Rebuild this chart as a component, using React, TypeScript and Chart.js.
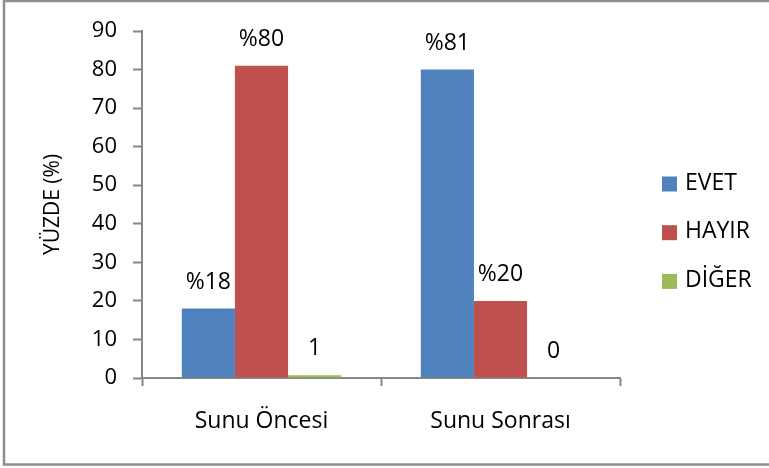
import React, { useEffect, useRef } from "react";
import { Chart, registerables } from "chart.js";

Chart.register(...registerables);

const categories = ["Sunu Öncesi", "Sunu Sonrası"];
const seriesNames = ["EVET", "HAYIR", "DİĞER"];
const evetValues = [18, 80];
const hayirValues = [81, 20];
const digerValues = [0.7, 0];
const evetLabels = ["%18", "%81"];
const hayirLabels = ["%80", "%20"];
const digerLabels = ["1", "0"];
const yTicks = [0, 10, 20, 30, 40, 50, 60, 70, 80, 90];
const yTitle = "YÜZDE (%)";

const colors = ["#4F81BD", "#C0504D", "#9BBB59"];
const FONT = "'Open Sans', sans-serif";
const AXIS_GRAY = "#868686";

const labelSets = [evetLabels, hayirLabels, digerLabels];

const borderPlugin = {
  id: "outerBorder",
  beforeDraw(chart: any) {
    const ctx = chart.ctx;
    ctx.save();
    ctx.fillStyle = "#ffffff";
    ctx.fillRect(0, 0, chart.width, chart.height);
    ctx.strokeStyle = "#8e8e8e";
    ctx.lineWidth = 2.5;
    ctx.strokeRect(4, 1, chart.width + 10, 463.5);
    ctx.restore();
  },
};

const dataLabelPlugin = {
  id: "dataLabels",
  afterDatasetsDraw(chart: any) {
    const ctx = chart.ctx;
    ctx.save();
    ctx.font = `23px ${FONT}`;
    ctx.fillStyle = "#000";
    ctx.textAlign = "center";
    ctx.textBaseline = "alphabetic";
    chart.data.datasets.forEach((ds: any, di: number) => {
      const meta = chart.getDatasetMeta(di);
      meta.data.forEach((el: any, i: number) => {
        ctx.fillText(labelSets[di][i], el.x, el.y - 20);
      });
    });
    ctx.restore();
  },
};

const legendPlugin = {
  id: "customLegend",
  afterDraw(chart: any) {
    const ctx = chart.ctx;
    const x0 = chart.chartArea.right + 42;
    const yStart = 184;
    const step = 48.7;
    ctx.save();
    ctx.font = `23px ${FONT}`;
    ctx.textBaseline = "middle";
    ctx.textAlign = "left";
    chart.data.datasets.forEach((ds: any, i: number) => {
      const cy = yStart + i * step;
      ctx.fillStyle = ds.backgroundColor;
      ctx.fillRect(x0, cy - 7.5, 15, 15);
      ctx.fillStyle = "#000";
      ctx.fillText(ds.label, x0 + 23, cy - 1);
    });
    ctx.restore();
  },
};

export default function App() {
  const ref = useRef<HTMLCanvasElement>(null);
  useEffect(() => {
    if (!ref.current) return;
    const valueSets = [evetValues, hayirValues, digerValues];
    const chart = new Chart(ref.current, {
      type: "bar",
      data: {
        labels: categories,
        datasets: seriesNames.map((name, i) => ({
          label: name,
          data: valueSets[i],
          backgroundColor: colors[i],
          borderWidth: 0,
          categoryPercentage: 0.667,
          barPercentage: 1,
        })),
      },
      options: {
        responsive: false,
        animation: false,
        layout: { padding: { left: 36, top: 31, right: 149, bottom: 30 } },
        plugins: { legend: { display: false }, tooltip: { enabled: false } },
        scales: {
          x: {
            offset: true,
            grid: {
              offset: true,
              drawOnChartArea: false,
              drawTicks: true,
              tickLength: 8,
              tickColor: AXIS_GRAY,
              tickWidth: 2,
            },
            border: { display: true, color: AXIS_GRAY, width: 2 },
            ticks: {
              color: "#000",
              font: { family: FONT, size: 23 },
              padding: 22,
            },
            afterFit: (s: any) => {
              s.height = 60;
            },
          },
          y: {
            min: 0,
            max: 90,
            afterBuildTicks: (s: any) => {
              s.ticks = yTicks.map((v) => ({ value: v }));
            },
            grid: {
              drawOnChartArea: false,
              drawTicks: true,
              tickLength: 9,
              tickColor: AXIS_GRAY,
              tickWidth: 2,
            },
            border: { display: true, color: AXIS_GRAY, width: 2 },
            ticks: {
              color: "#000",
              font: { family: FONT, size: 22 },
              padding: 16,
            },
            title: {
              display: true,
              text: yTitle,
              color: "#000",
              font: { family: FONT, size: 21 },
              padding: { top: 4, bottom: 4 },
            },
            afterFit: (s: any) => {
              s.width = 106;
            },
          },
        },
      },
      plugins: [borderPlugin, dataLabelPlugin, legendPlugin],
    });
    return () => chart.destroy();
  }, []);
  return (
    <div style={{ position: "absolute", left: 0, top: 0, width: 769, height: 468 }}>
      <canvas ref={ref} width={769} height={468} />
    </div>
  );
}
